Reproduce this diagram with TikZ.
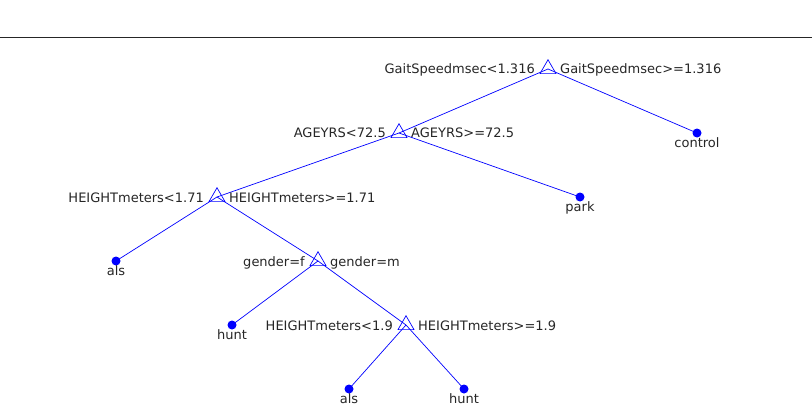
\documentclass[tikz,border=0pt]{standalone}
\usepackage{fontspec}
\setmainfont{DejaVu Sans}
\usepackage{xcolor}
\usetikzlibrary{positioning}
\usetikzlibrary{shapes.geometric}
\definecolor{txtgray}{rgb}{0.15,0.15,0.15}

\begin{document}
\begin{tikzpicture}[x=1pt,y=-1pt,
	split/.style={draw=blue,regular polygon,regular polygon sides=3,minimum size=18.5pt,inner sep=0pt,line width=0.7pt},
	leaf/.style={circle,fill=blue,minimum size=9pt,inner sep=0pt},
	edge/.style={blue,line width=0.7pt},
	lbl/.style={txtgray,inner sep=0pt,font=\fontsize{13}{15}\selectfont}]
	\useasboundingbox (0,0) rectangle (812,420);
	\draw[txtgray,line width=1pt] (0,38) -- (812,38);
	% splits
	\node[split] (gait) at (548,69) {};
	\node[split] (age) at (399,133) {};
	\node[split] (ht1) at (217,197) {};
	\node[split] (gend) at (318,261) {};
	\node[split] (ht2) at (406,325) {};
	% leaves
	\node[leaf] (ctrl) at (697,133) {};
	\node[leaf] (park) at (580,197) {};
	\node[leaf] (als1) at (116,261) {};
	\node[leaf] (hunt1) at (232,325) {};
	\node[leaf] (als2) at (349,389) {};
	\node[leaf] (hunt2) at (464,389) {};
	% branches
	\draw[edge] (gait.center) -- (age.center);
	\draw[edge] (gait.center) -- (ctrl.center);
	\draw[edge] (age.center) -- (ht1.center);
	\draw[edge] (age.center) -- (park.center);
	\draw[edge] (ht1.center) -- (als1.center);
	\draw[edge] (ht1.center) -- (gend.center);
	\draw[edge] (gend.center) -- (hunt1.center);
	\draw[edge] (gend.center) -- (ht2.center);
	\draw[edge] (ht2.center) -- (als2.center);
	\draw[edge] (ht2.center) -- (hunt2.center);
	% split labels
	\node[lbl,left=13pt of gait.center,anchor=base east,yshift=-5pt] (gaitl) {GaitSpeedmsec<1.316};
	\node[lbl,right=12pt of gait.center,anchor=base west,yshift=-5pt] (gaitr) {GaitSpeedmsec>=1.316};
	\node[lbl,left=13pt of age.center,anchor=base east,yshift=-5pt] (agel) {AGEYRS<72.5};
	\node[lbl,right=12pt of age.center,anchor=base west,yshift=-5pt] (ager) {AGEYRS>=72.5};
	\node[lbl,left=13pt of ht1.center,anchor=base east,yshift=-5pt] (ht1l) {HEIGHTmeters<1.71};
	\node[lbl,right=12pt of ht1.center,anchor=base west,yshift=-5pt] (ht1r) {HEIGHTmeters>=1.71};
	\node[lbl,left=13pt of gend.center,anchor=base east,yshift=-5pt] (gendl) {gender=f};
	\node[lbl,right=12pt of gend.center,anchor=base west,yshift=-5pt] (gendr) {gender=m};
	\node[lbl,left=13pt of ht2.center,anchor=base east,yshift=-5pt] (ht2l) {HEIGHTmeters<1.9};
	\node[lbl,right=12pt of ht2.center,anchor=base west,yshift=-5pt] (ht2r) {HEIGHTmeters>=1.9};
	% leaf labels
	\node[lbl,below=4pt of ctrl.center] {control};
	\node[lbl,below=4pt of park.center] {park};
	\node[lbl,below=4pt of als1.center] {als};
	\node[lbl,below=4pt of hunt1.center] {hunt};
	\node[lbl,below=4pt of als2.center] {als};
	\node[lbl,below=4pt of hunt2.center] {hunt};
\end{tikzpicture}
\end{document}
